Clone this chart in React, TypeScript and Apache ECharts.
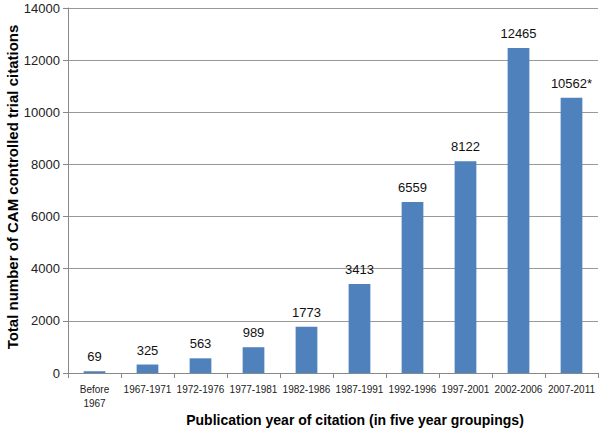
import React, { useEffect, useRef } from "react";
import * as echarts from "echarts";

const categories = ["Before\n1967", "1967-1971", "1972-1976", "1977-1981", "1982-1986", "1987-1991", "1992-1996", "1997-2001", "2002-2006", "2007-2011"];
const values = [69, 325, 563, 989, 1773, 3413, 6559, 8122, 12465, 10562];
const valueLabels = ["69", "325", "563", "989", "1773", "3413", "6559", "8122", "12465", "10562*"];
const xTitle = "Publication year of citation (in five year groupings)";
const yTitle = "Total number of CAM controlled trial citations";

const FONT = "'Liberation Sans', Arial, Helvetica, sans-serif";

export default function App() {
  const ref = useRef<HTMLDivElement>(null);
  useEffect(() => {
    if (!ref.current) return;
    const chart = echarts.init(ref.current, null, { renderer: "svg" });
    chart.setOption({
      animation: false,
      backgroundColor: "#ffffff",
      textStyle: { fontFamily: FONT },
      grid: { left: 68, right: 2, top: 8, bottom: 56, containLabel: false },
      graphic: [
        {
          type: "text",
          x: 355,
          y: 420,
          style: {
            text: xTitle,
            fontFamily: FONT,
            fontSize: 14,
            fontWeight: "bold",
            fill: "#000",
            align: "center",
            verticalAlign: "middle",
          },
        },
        {
          type: "text",
          x: 12,
          y: 187,
          rotation: Math.PI / 2,
          style: {
            text: yTitle,
            fontFamily: FONT,
            fontSize: 15,
            fontWeight: "bold",
            fill: "#000",
            align: "center",
            verticalAlign: "middle",
          },
        },
      ],
      xAxis: {
        type: "category",
        data: categories,
        axisLine: { lineStyle: { color: "#888", width: 1 } },
        axisTick: { show: true, alignWithLabel: false, length: 5, lineStyle: { color: "#888" } },
        axisLabel: { fontFamily: FONT, fontSize: 10, color: "#222", margin: 9, interval: 0, lineHeight: 14 },
      },
      yAxis: {
        type: "value",
        min: 0,
        max: 14000,
        interval: 2000,
        axisLine: { show: true, lineStyle: { color: "#888", width: 1 } },
        axisTick: { show: true, length: 5, lineStyle: { color: "#888" } },
        axisLabel: { fontFamily: FONT, fontSize: 13, color: "#222", margin: 8, formatter: (v: number) => String(v) },
        splitLine: { show: true, lineStyle: { color: "#999", width: 1 } },
      },
      series: [
        {
          type: "bar",
          data: values,
          barCategoryGap: "59%",
          itemStyle: { color: "#4f81bd" },
          label: {
            show: true,
            position: "top",
            distance: 8,
            fontFamily: FONT,
            fontSize: 13,
            color: "#111",
            formatter: (p: any) => valueLabels[p.dataIndex],
          },
        },
      ],
    });
    return () => chart.dispose();
  }, []);
  return <div ref={ref} style={{ width: 600, height: 429, position: "absolute", left: 0, top: 0 }} />;
}
